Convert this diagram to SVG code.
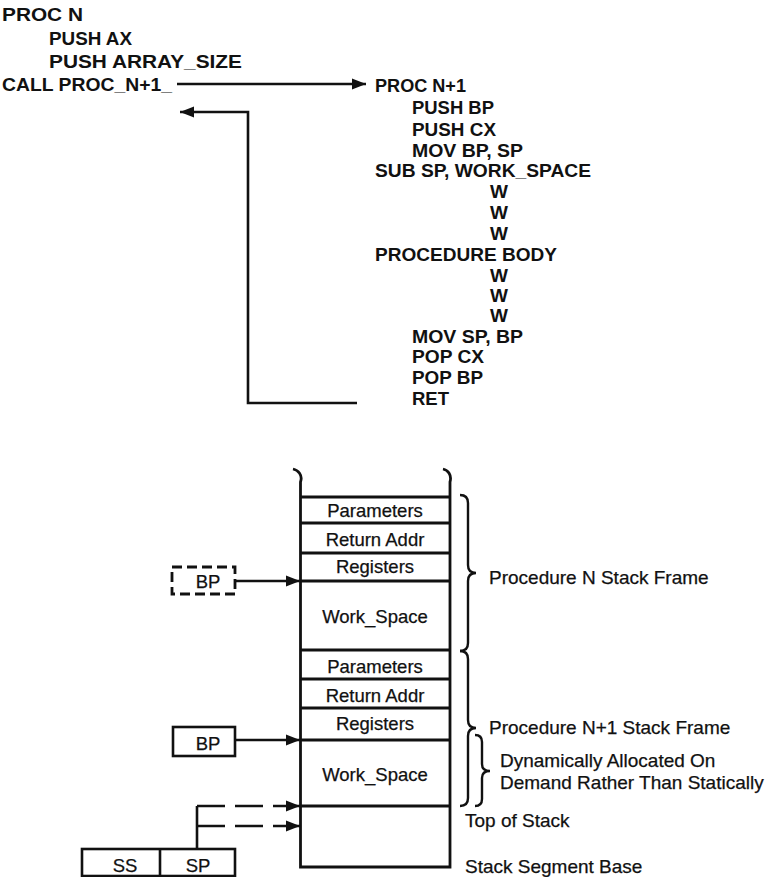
<svg xmlns="http://www.w3.org/2000/svg" width="772" height="877" viewBox="0 0 772 877">
<style>
.code{font-family:"Liberation Sans",Arial,sans-serif;font-size:19px;font-weight:bold;fill:#111}
.lbl{font-family:"Liberation Sans",Arial,sans-serif;font-size:18.5px;fill:#111;stroke:#111;stroke-width:0.25}
.rlbl{font-family:"Liberation Sans",Arial,sans-serif;font-size:19px;fill:#111;stroke:#111;stroke-width:0.25}
.mid{text-anchor:middle}
.ln{fill:none;stroke:#111;stroke-width:2.6}
.st{fill:none;stroke:#111;stroke-width:2.8}
.br{fill:none;stroke:#111;stroke-width:2.4}
.dash{stroke-dasharray:28 10}
.bx{fill:none;stroke:#111;stroke-width:2.6}
.dbx{fill:none;stroke:#111;stroke-width:2.8;stroke-dasharray:10 5}
</style>
<defs>
<marker id="ah" markerUnits="userSpaceOnUse" markerWidth="15" markerHeight="12" refX="14" refY="6" orient="auto">
<path d="M0 0.5 L14 6 L0 11.5 z" fill="#111"/>
</marker>
</defs>
<rect x="0" y="0" width="772" height="877" fill="#fff"/>

<g id="procN">
<text class="code" x="2" y="21" textLength="81" lengthAdjust="spacingAndGlyphs">PROC N</text>
<text class="code" x="49" y="45" textLength="83" lengthAdjust="spacingAndGlyphs">PUSH AX</text>
<text class="code" x="49" y="68" textLength="193" lengthAdjust="spacingAndGlyphs">PUSH ARRAY_SIZE</text>
<text class="code" x="2" y="91" textLength="170" lengthAdjust="spacingAndGlyphs">CALL PROC_N+1_</text>
</g>

<g id="procN1">
<text class="code" x="375" y="92" textLength="91" lengthAdjust="spacingAndGlyphs">PROC N+1</text>
<text class="code" x="412" y="114" textLength="82" lengthAdjust="spacingAndGlyphs">PUSH BP</text>
<text class="code" x="412" y="136" textLength="84" lengthAdjust="spacingAndGlyphs">PUSH CX</text>
<text class="code" x="412" y="157" textLength="111" lengthAdjust="spacingAndGlyphs">MOV BP, SP</text>
<text class="code" x="375" y="177" textLength="216" lengthAdjust="spacingAndGlyphs">SUB SP, WORK_SPACE</text>
<text class="code" x="490" y="198">W</text>
<text class="code" x="490" y="219">W</text>
<text class="code" x="490" y="240">W</text>
<text class="code" x="375" y="261" textLength="182" lengthAdjust="spacingAndGlyphs">PROCEDURE BODY</text>
<text class="code" x="490" y="282">W</text>
<text class="code" x="490" y="302">W</text>
<text class="code" x="490" y="322">W</text>
<text class="code" x="412" y="343" textLength="111" lengthAdjust="spacingAndGlyphs">MOV SP, BP</text>
<text class="code" x="412" y="363" textLength="72" lengthAdjust="spacingAndGlyphs">POP CX</text>
<text class="code" x="412" y="384" textLength="71" lengthAdjust="spacingAndGlyphs">POP BP</text>
<text class="code" x="412" y="405" textLength="37" lengthAdjust="spacingAndGlyphs">RET</text>
</g>

<g id="stack">
<path class="st" d="M293 469 C298 470, 303 475, 300.5 482 L300.5 867 L450 867 L450 482 C452 475, 448 470, 443 469"/>
<path class="st" d="M300.5 497 H450 M300.5 523 H450 M300.5 553 H450 M300.5 581 H450 M300.5 650 H450 M300.5 679 H450 M300.5 708 H450 M300.5 740 H450 M300.5 806 H450"/>
<text class="lbl mid" x="375" y="517">Parameters</text>
<text class="lbl mid" x="375" y="546">Return Addr</text>
<text class="lbl mid" x="375" y="573">Registers</text>
<text class="lbl mid" x="375" y="623">Work_Space</text>
<text class="lbl mid" x="375" y="673">Parameters</text>
<text class="lbl mid" x="375" y="702">Return Addr</text>
<text class="lbl mid" x="375" y="730">Registers</text>
<text class="lbl mid" x="375" y="781">Work_Space</text>
</g>

<g id="bp1">
<rect class="dbx" x="172" y="567" width="63" height="27"/>
<text class="lbl mid" x="208" y="588">BP</text>
</g>
<g id="bp2">
<rect class="bx" x="173" y="727" width="62" height="29"/>
<text class="lbl mid" x="208" y="750">BP</text>
</g>
<g id="sssp">
<rect class="bx" x="82" y="849" width="153" height="27"/>
<path class="bx" d="M160 849 V876"/>
<text class="lbl mid" x="125" y="872">SS</text>
<text class="lbl mid" x="198" y="872">SP</text>
</g>

<g id="braces">
<path class="br" d="M460 495 Q468 495 468 503 L468 565 Q468 573 476 573 Q468 573 468 581 L468 643 Q468 651 460 651"/>
<path class="br" d="M460 651 Q468 651 468 659 L468 720 Q468 728 476 728 Q468 728 468 736 L468 798 Q468 806 460 806"/>
<path class="br" d="M475 735 Q482 735 482 742 L482 764 Q482 771 490 771 Q482 771 482 778 L482 799 Q482 806 475 806"/>
</g>

<g id="labels">
<text class="rlbl" x="489" y="584">Procedure N Stack Frame</text>
<text class="rlbl" x="489" y="734">Procedure N+1 Stack Frame</text>
<text class="rlbl" x="500" y="767">Dynamically Allocated On</text>
<text class="rlbl" x="500" y="789">Demand Rather Than Statically</text>
<text class="rlbl" x="465" y="827">Top of Stack</text>
<text class="rlbl" x="465" y="873">Stack Segment Base</text>
</g>

<g id="connectors">
<path class="ln" d="M177 84 H366" marker-end="url(#ah)"/>
<path class="ln" d="M357 403 H248 V112 H180" marker-end="url(#ah)"/>
<path class="ln" d="M235 581 H300" marker-end="url(#ah)"/>
<path class="ln" d="M235 740 H300" marker-end="url(#ah)"/>
<path class="ln" d="M197 849 V806"/>
<path class="ln dash" d="M197 806 H300" marker-end="url(#ah)"/>
<path class="ln dash" d="M197 826 H300" marker-end="url(#ah)"/>
</g>
</svg>
